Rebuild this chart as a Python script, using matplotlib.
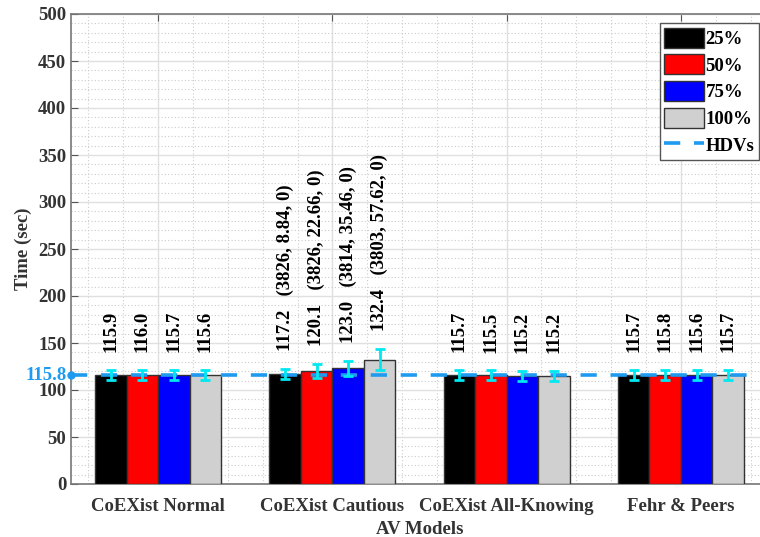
import matplotlib
matplotlib.use("Agg")
import matplotlib.pyplot as plt
import numpy as np
from matplotlib.ticker import MultipleLocator

# travel time per AV model and penetration rate
models = ["CoEXist Normal", "CoEXist Cautious", "CoEXist All-Knowing", "Fehr & Peers"]
rates = ["25%", "50%", "75%", "100%"]
times = np.array([
    [115.9, 116.0, 115.7, 115.6],
    [117.2, 120.1, 123.0, 132.4],
    [115.7, 115.5, 115.2, 115.2],
    [115.7, 115.8, 115.6, 115.7],
])
errs = np.array([
    [5.3, 5.3, 5.3, 5.3],
    [5.5, 7.6, 7.6, 11.0],
    [5.3, 5.3, 5.3, 5.3],
    [5.3, 5.3, 5.3, 5.3],
])
extra = [
    ["", "", "", ""],
    ["(3826, 8.84, 0)", "(3826, 22.66, 0)", "(3814, 35.46, 0)", "(3803, 57.62, 0)"],
    ["", "", "", ""],
    ["", "", "", ""],
]
hdv = 115.8
colors = ["#000000", "#ff0000", "#0000ff", "#d0d0d0"]

plt.rcParams["font.family"] = ["Liberation Serif", "DejaVu Serif"]
plt.rcParams["font.weight"] = "bold"
plt.rcParams["axes.labelweight"] = "bold"

fig = plt.figure(figsize=(7.6, 5.37), dpi=100)
ax = fig.add_axes([71 / 760, 1 - 484 / 537, 697 / 760, 470 / 537])

x = np.arange(1, len(models) + 1)
w = 0.181
bars = []
for j, rate in enumerate(rates):
    pos = x + (j - 1.5) * w
    b = ax.bar(pos, times[:, j], w, color=colors[j], edgecolor="#333333",
               linewidth=1.0, label=rate, zorder=3)
    bars.append(b)
    ax.errorbar(pos, times[:, j], yerr=errs[:, j], fmt="none", ecolor="#00e8f0",
                elinewidth=2, capsize=3.5, capthick=2, zorder=5)
    for i in range(len(models)):
        txt = f"{times[i, j]:.1f}"
        if extra[i][j]:
            txt += "   " + extra[i][j]
        ax.text(pos[i], times[i, j] + errs[i, j] + 19, txt, rotation=90,
                ha="center", va="bottom", fontsize=13.5, fontweight="bold", zorder=6)

line = ax.axhline(hdv, color="#1e9bf0", linestyle=(0, (4.5, 3.8)), linewidth=2.6,
                  label="HDVs", zorder=4)
ax.plot([0.5], [hdv], "o", color="#1e9bf0", markersize=5, clip_on=False, zorder=6)
ax.text(-0.006, hdv, f"{hdv:.1f}", transform=ax.get_yaxis_transform(),
        ha="right", va="center", color="#1e9bf0", fontsize=13.5, fontweight="bold")

ax.set_xlim(0.5, 4.5)
ax.set_ylim(0, 500)
ax.set_xticks(x)
ax.set_xticklabels(models)
ax.yaxis.set_major_locator(MultipleLocator(50))
ax.yaxis.set_minor_locator(MultipleLocator(10))
ax.xaxis.set_minor_locator(MultipleLocator(0.2))
ax.tick_params(axis="both", which="major", direction="in", labelsize=13.5,
               top=True, right=True, length=5, color="#555555", labelcolor="#333333")
ax.tick_params(axis="x", which="major", pad=10)
ax.tick_params(axis="both", which="minor", length=0)
ax.grid(which="major", color="#e0e0e0", linewidth=1.0, zorder=0)
ax.grid(which="minor", color="#cccccc", linestyle=(0, (1, 2)), linewidth=0.8, zorder=0)
ax.set_axisbelow(True)
for s in ax.spines.values():
    s.set_color("#777777")
    s.set_linewidth(1.2)

ax.set_xlabel("AV Models", fontsize=13.5, color="#333333", labelpad=4.5)
ax.set_ylabel("Time (sec)", fontsize=13.5, color="#333333", labelpad=4)

leg = ax.legend(bars + [line], rates + ["HDVs"], loc="upper right",
                bbox_to_anchor=((759 - 71) / 697, 1 - 9 / 470), fontsize=13.5,
                handlelength=2.1, handleheight=1.25, handletextpad=0.1,
                borderpad=0.25, labelspacing=0.35, borderaxespad=0, fancybox=False,
                edgecolor="#555555", framealpha=1)
leg.get_frame().set_linewidth(1.0)

fig.savefig("out.png", dpi=100)
